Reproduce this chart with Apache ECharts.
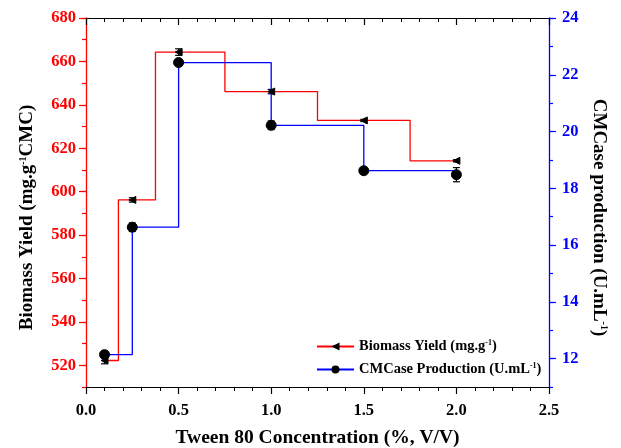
<!DOCTYPE html>
<html>
<head>
<meta charset="utf-8">
<script src="https://cdn.jsdelivr.net/npm/echarts@6/dist/echarts.min.js"></script>
<style>html,body{margin:0;padding:0;background:#fff}#c{width:621px;height:448px}</style>
</head>
<body>
<div id="c"></div>
<script>
const conc = [0.1, 0.25, 0.5, 1.0, 1.5, 2.0];
const biomass = [522.2, 596.2, 664.3, 646.1, 632.8, 614.2];
const biomassErr = [1.5, 1.0, 1.5, 1.0, 0.5, 0.5];
const cmcase = [12.14, 16.63, 22.43, 20.22, 18.62, 18.48];
const cmcaseErr = [0.1, 0.15, 0.1, 0.15, 0.05, 0.25];
const leftMajor = [520, 540, 560, 580, 600, 620, 640, 660, 680];
const rightMajor = [12, 14, 16, 18, 20, 22, 24];

const FONT = 'Liberation Serif';
const chart = echarts.init(document.getElementById('c'));
const GRID = { left: 86, right: 72, top: 18, bottom: 61, containLabel: false, outerBoundsMode: 'none' };

function errSeries(name, xs, ys, es, yIdx) {
  return {
    type: 'custom', name: name, xAxisIndex: 0, yAxisIndex: yIdx, z: 5, silent: true,
    data: xs.map((x, i) => [x, ys[i], es[i]]),
    renderItem: function (params, api) {
      const x = api.value(0), y = api.value(1), e = api.value(2);
      const lo = api.coord([x, y - e]), hi = api.coord([x, y + e]);
      const w = 3.5;
      const st = { stroke: '#000', lineWidth: 1.2 };
      return { type: 'group', children: [
        { type: 'line', shape: { x1: lo[0], y1: lo[1], x2: hi[0], y2: hi[1] }, style: st },
        { type: 'line', shape: { x1: lo[0] - w, y1: lo[1], x2: lo[0] + w, y2: lo[1] }, style: st },
        { type: 'line', shape: { x1: hi[0] - w, y1: hi[1], x2: hi[0] + w, y2: hi[1] }, style: st }
      ]};
    }
  };
}

const supRich = { sup: { fontFamily: FONT, fontWeight: 'bold', fontSize: 10, verticalAlign: 'top', padding: [0, 0, 7, 0] } };

chart.setOption({
  animation: false,
  grid: [Object.assign({}, GRID), Object.assign({}, GRID)],
  legend: {
    orient: 'vertical', left: 311, top: 334, itemGap: 8, itemWidth: 37, itemHeight: 10,
    data: ['Biomass Yield', 'CMCase Production'],
    formatter: function (n) {
      return n === 'Biomass Yield' ? 'Biomass Yield (mg.g{sup|-1})' : 'CMCase Production (U.mL{sup|-1})';
    },
    textStyle: { fontFamily: FONT, fontWeight: 'bold', fontSize: 14.5, color: '#000', rich: { sup: { fontFamily: FONT, fontWeight: 'bold', fontSize: 8, verticalAlign: 'top', padding: [0, 0, 6, 0] } } }
  },
  xAxis: [{
    type: 'value', gridIndex: 0, min: 0, max: 2.5, interval: 0.5, position: 'bottom',
    name: 'Tween 80 Concentration (%, V/V)', nameLocation: 'middle', nameGap: 41,
    nameTextStyle: { fontFamily: FONT, fontWeight: 'bold', fontSize: 19.5, color: '#000' },
    axisLine: { show: true, onZero: false, lineStyle: { color: '#000', width: 1.2 } },
    axisTick: { show: true, length: 7, lineStyle: { color: '#000', width: 1.2 } },
    minorTick: { show: true, splitNumber: 5, length: 4, lineStyle: { color: '#000', width: 1 } },
    axisLabel: { fontFamily: FONT, fontWeight: 'bold', fontSize: 16.5, color: '#000', margin: 15, formatter: v => v.toFixed(1) },
    splitLine: { show: false }
  }, {
    type: 'value', gridIndex: 0, min: 0, max: 2.5, interval: 0.5, position: 'top',
    axisLine: { show: true, onZero: false, lineStyle: { color: '#000', width: 1.2 } },
    axisTick: { show: true, inside: true, length: 7, lineStyle: { color: '#000', width: 1.2 } },
    minorTick: { show: true, splitNumber: 5, length: 4, lineStyle: { color: '#000', width: 1 } },
    axisLabel: { show: false }, splitLine: { show: false }
  }, {
    type: 'value', gridIndex: 1, min: 0, max: 2.5, show: false
  }],
  yAxis: [{
    type: 'value', gridIndex: 0, min: 510, max: 680, interval: 10, position: 'left',
    name: 'Biomass Yield (mg.g{sup|-1}CMC)', nameLocation: 'middle', nameGap: 49,
    nameTextStyle: { fontFamily: FONT, fontWeight: 'bold', fontSize: 19, color: '#000', rich: Object.assign({}, supRich), padding: [0, 0, 0, -30] },
    axisLine: { show: true, onZero: false, lineStyle: { color: '#ff0000', width: 1.3 } },
    axisTick: { show: true, length: 4, lineStyle: { color: '#ff0000', width: 1.2 } },
    axisLabel: { fontFamily: FONT, fontWeight: 'bold', fontSize: 16.5, color: '#ff0000', margin: 10,
      formatter: v => (v % 20 === 0 ? String(v) : '') },
    splitLine: { show: false }
  }, {
    type: 'value', gridIndex: 0, min: 11, max: 24, interval: 1, position: 'right',
    name: 'CMCase production (U.mL{sup|-1})', nameLocation: 'middle', nameGap: 39, nameRotate: -90,
    nameTextStyle: { fontFamily: FONT, fontWeight: 'bold', fontSize: 19, color: '#000', rich: Object.assign({}, supRich), padding: [0, 0, 0, 30] },
    axisLine: { show: true, onZero: false, lineStyle: { color: '#0000ff', width: 1.3 } },
    axisTick: { show: true, length: 4, lineStyle: { color: '#0000ff', width: 1.2 } },
    axisLabel: { fontFamily: FONT, fontWeight: 'bold', fontSize: 16.5, color: '#0000ff', margin: 13,
      formatter: v => (v % 2 === 0 ? String(v) : '') },
    splitLine: { show: false }
  }, {
    type: 'value', gridIndex: 1, min: 510, max: 680, position: 'left',
    axisLine: { show: false },
    axisTick: { show: true, length: 7, customValues: leftMajor, lineStyle: { color: '#ff0000', width: 1.2 } },
    axisLabel: { show: false }, splitLine: { show: false }
  }, {
    type: 'value', gridIndex: 1, min: 11, max: 24, position: 'right',
    axisLine: { show: false },
    axisTick: { show: true, length: 7, customValues: rightMajor, lineStyle: { color: '#0000ff', width: 1.2 } },
    axisLabel: { show: false }, splitLine: { show: false }
  }],
  series: [{
    name: 'Biomass Yield', type: 'line', step: 'middle', xAxisIndex: 0, yAxisIndex: 0,
    data: conc.map((x, i) => [x, biomass[i]]),
    lineStyle: { color: '#ff0000', width: 1.3 },
    symbol: 'triangle', symbolRotate: 90, symbolSize: 7,
    itemStyle: { color: '#000', borderColor: '#000' }, z: 6
  }, {
    name: 'CMCase Production', type: 'line', step: 'end', xAxisIndex: 0, yAxisIndex: 1,
    data: conc.map((x, i) => [x, cmcase[i]]),
    lineStyle: { color: '#0000ff', width: 1.3 },
    symbol: 'circle', symbolSize: 10,
    itemStyle: { color: '#000', borderColor: '#000' }, z: 6
  },
  errSeries('biomassErr', conc, biomass, biomassErr, 0),
  errSeries('cmcaseErr', conc, cmcase, cmcaseErr, 1)
  ]
});
</script>
</body>
</html>
